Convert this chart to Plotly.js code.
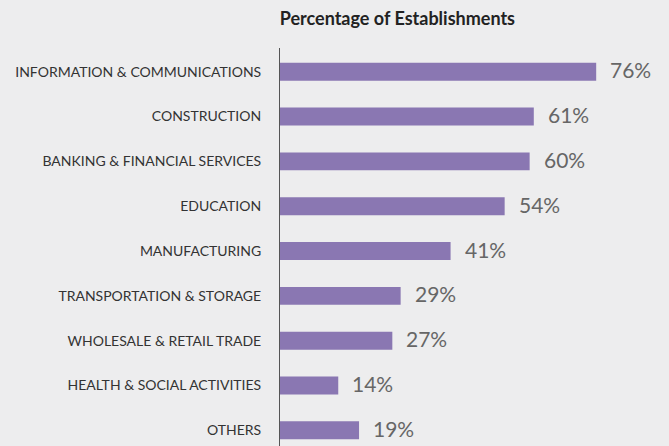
<!DOCTYPE html>
<html><head><meta charset="utf-8">
<script src="https://cdn.plot.ly/plotly-3.0.1.min.js"></script>
<style>html,body{margin:0;padding:0;background:#ededee;}</style>
</head><body><div id="chart" style="width:669px;height:446px;"></div>
<script>
var categories = ["INFORMATION & COMMUNICATIONS","CONSTRUCTION","BANKING & FINANCIAL SERVICES","EDUCATION","MANUFACTURING","TRANSPORTATION & STORAGE","WHOLESALE & RETAIL TRADE","HEALTH & SOCIAL ACTIVITIES","OTHERS"];
var values = [76,61,60,54,41,29,27,14,19];
var valueLabels = ["76%","61%","60%","54%","41%","29%","27%","14%","19%"];

var trace = {
  type: "bar", orientation: "h",
  x: values, y: categories,
  marker: {color: "#8a77b2"},
  hoverinfo: "none"
};
var annotations = values.map(function(v, i){
  return {x: v, y: categories[i], xref: "x", yref: "y", text: valueLabels[i],
    showarrow: false, xanchor: "left", yanchor: "middle", xshift: 12, yshift: 2,
    font: {family: "Lato, sans-serif", size: 21, color: "#666666"}};
});
var layout = {
  width: 669, height: 446,
  paper_bgcolor: "#ededee", plot_bgcolor: "#ededee",
  margin: {l: 280, r: 0, t: 48, b: 0},
  bargap: 0.6,
  showlegend: false,
  title: {text: "<b>Percentage of Establishments</b>", x: 0.594, xref: "container", xanchor: "center",
    y: 0.958, yref: "container", yanchor: "middle",
    font: {family: "Lato, sans-serif", size: 18, color: "#222222"}},
  xaxis: {range: [0, 93.5], showgrid: false, zeroline: false, showticklabels: false, showline: false, fixedrange: true},
  yaxis: {type: "category", range: [8.35, -0.53], showgrid: false, zeroline: false,
    showline: true, linecolor: "#555555", linewidth: 1,
    ticks: "outside", ticklen: 15, tickcolor: "rgba(0,0,0,0)",
    tickfont: {family: "Lato, sans-serif", size: 14, color: "#333333"}},
  annotations: annotations
};
Plotly.newPlot("chart", [trace], layout, {displayModeBar: false, staticPlot: true});
</script></body></html>
